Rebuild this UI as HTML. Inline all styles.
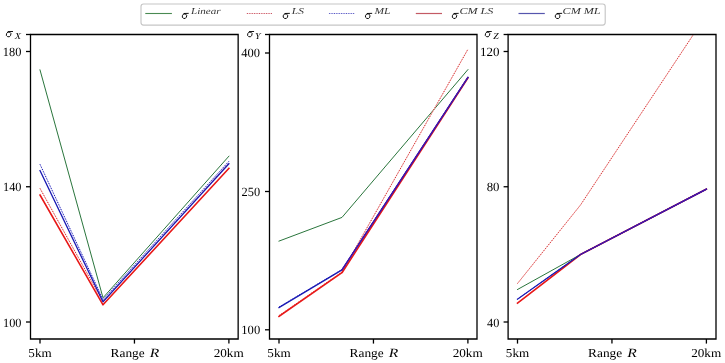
<!DOCTYPE html>
<html><head><meta charset="utf-8"><style>
html,body{margin:0;padding:0;background:#fff;width:725px;height:363px;overflow:hidden}
svg{display:block;will-change:transform}
text{font-family:"Liberation Serif",serif;text-rendering:geometricPrecision}
</style></head><body>
<svg width="725" height="363" viewBox="0 0 725 363">
<rect width="725" height="363" fill="#fff"/>
<defs>
<clipPath id="c0"><rect x="30.5" y="34.5" width="207.65" height="304.50"/></clipPath>
<clipPath id="c1"><rect x="269.5" y="34.5" width="207.50" height="304.50"/></clipPath>
<clipPath id="c2"><rect x="508.1" y="34.5" width="207.90" height="304.50"/></clipPath>
</defs>
<g clip-path="url(#c0)" fill="none" stroke-linejoin="round" stroke-linecap="butt">
<polyline points="40.00,69.90 103.00,297.80 228.90,156.20" stroke="#1f6e32" stroke-width="0.95" stroke-linecap="square"/>
<polyline points="40.00,188.40 103.00,302.00 228.90,163.20" stroke="#f8b8b8" stroke-width="0.8"/>
<polyline points="40.00,188.40 103.00,302.00 228.90,163.20" stroke="#d02828" stroke-width="1.0" stroke-dasharray="1.1 1.5"/>
<polyline points="40.00,164.30 103.00,299.60 228.90,161.30" stroke="#b8b8f8" stroke-width="0.8"/>
<polyline points="40.00,164.30 103.00,299.60 228.90,161.30" stroke="#1c1ca8" stroke-width="1.0" stroke-dasharray="1.1 1.5"/>
<polyline points="40.00,195.00 103.00,304.80 228.90,168.30" stroke="#e81818" stroke-width="1.6" stroke-linecap="square"/>
<polyline points="40.00,170.60 103.00,301.80 228.90,163.70" stroke="#1a1ab4" stroke-width="1.3" stroke-linecap="square"/>
</g>
<path d="M30.5,33.85V339.65M238.15,33.85V339.65M29.85,34.5H238.80M29.85,339.0H238.80" fill="none" stroke="#000" stroke-width="1.3"/>
<line x1="26.00" y1="51.5" x2="30.5" y2="51.5" stroke="#000" stroke-width="1.3"/>
<text transform="translate(2.83,56.00) scale(0.12409,0.12550)" font-size="100" fill="#000">180</text>
<line x1="26.00" y1="186.75" x2="30.5" y2="186.75" stroke="#000" stroke-width="1.3"/>
<text transform="translate(3.05,191.00) scale(0.12263,0.12550)" font-size="100" fill="#000">140</text>
<line x1="26.00" y1="322.0" x2="30.5" y2="322.0" stroke="#000" stroke-width="1.3"/>
<text transform="translate(3.05,327.00) scale(0.12263,0.12550)" font-size="100" fill="#000">100</text>
<line x1="26.00" y1="34.5" x2="30.5" y2="34.5" stroke="#000" stroke-width="1.3"/>
<line x1="40.00" y1="339.0" x2="40.00" y2="343.6" stroke="#000" stroke-width="1.3"/>
<line x1="134.45" y1="339.0" x2="134.45" y2="343.6" stroke="#000" stroke-width="1.3"/>
<line x1="228.90" y1="339.0" x2="228.90" y2="343.6" stroke="#000" stroke-width="1.3"/>
<text transform="translate(28.37,357.00) scale(0.13059,0.12128)" font-size="100" fill="#000">5km</text>
<text transform="translate(110.50,357.00) scale(0.13414,0.12241)" font-size="100" fill="#000">Range</text>
<text transform="translate(149.78,357.00) scale(0.15667,0.12748)" font-size="100" font-style="italic" fill="#000">R</text>
<text transform="translate(213.66,357.00) scale(0.13183,0.12128)" font-size="100" fill="#000">20km</text>
<g fill="none" stroke="#000"><ellipse cx="8.62" cy="34.42" rx="2.22" ry="2.46" transform="rotate(25 8.62 34.42)" stroke-width="0.85"/><path d="M8.13,31.60L12.58,31.48" stroke-width="0.94" stroke-linecap="round"/></g>
<text transform="translate(14.71,39.00) scale(0.10294,0.09313)" font-size="100" font-style="italic" fill="#000">X</text>
<g clip-path="url(#c1)" fill="none" stroke-linejoin="round" stroke-linecap="butt">
<polyline points="279.00,241.10 342.00,217.40 467.90,69.60" stroke="#1f6e32" stroke-width="0.95" stroke-linecap="square"/>
<polyline points="279.00,315.60 342.00,272.00 467.90,49.30" stroke="#f8b8b8" stroke-width="0.8"/>
<polyline points="279.00,315.60 342.00,272.00 467.90,49.30" stroke="#d02828" stroke-width="1.0" stroke-dasharray="1.1 1.5"/>
<polyline points="279.00,307.00 342.00,269.60 467.90,77.40" stroke="#b8b8f8" stroke-width="0.8"/>
<polyline points="279.00,307.00 342.00,269.60 467.90,77.40" stroke="#1c1ca8" stroke-width="1.0" stroke-dasharray="1.1 1.5"/>
<polyline points="279.00,316.40 342.00,272.70 467.90,77.90" stroke="#e81818" stroke-width="1.6" stroke-linecap="square"/>
<polyline points="279.00,307.50 342.00,269.90 467.90,77.40" stroke="#1a1ab4" stroke-width="1.3" stroke-linecap="square"/>
<line x1="342.00" y1="269.90" x2="467.90" y2="77.40" stroke="#4614a8" stroke-width="1.3" stroke-linecap="round"/>
</g>
<path d="M269.5,33.85V339.65M477.0,33.85V339.65M268.85,34.5H477.65M268.85,339.0H477.65" fill="none" stroke="#000" stroke-width="1.3"/>
<line x1="265.00" y1="53.0" x2="269.5" y2="53.0" stroke="#000" stroke-width="1.3"/>
<text transform="translate(241.30,57.00) scale(0.12500,0.12550)" font-size="100" fill="#000">400</text>
<line x1="265.00" y1="191.5" x2="269.5" y2="191.5" stroke="#000" stroke-width="1.3"/>
<text transform="translate(241.59,196.00) scale(0.12438,0.12550)" font-size="100" fill="#000">250</text>
<line x1="265.00" y1="329.8" x2="269.5" y2="329.8" stroke="#000" stroke-width="1.3"/>
<text transform="translate(241.31,334.00) scale(0.12628,0.12550)" font-size="100" fill="#000">100</text>
<line x1="265.00" y1="34.5" x2="269.5" y2="34.5" stroke="#000" stroke-width="1.3"/>
<line x1="279.00" y1="339.0" x2="279.00" y2="343.6" stroke="#000" stroke-width="1.3"/>
<line x1="373.45" y1="339.0" x2="373.45" y2="343.6" stroke="#000" stroke-width="1.3"/>
<line x1="467.90" y1="339.0" x2="467.90" y2="343.6" stroke="#000" stroke-width="1.3"/>
<text transform="translate(267.37,357.00) scale(0.13059,0.12128)" font-size="100" fill="#000">5km</text>
<text transform="translate(349.50,357.00) scale(0.13414,0.12241)" font-size="100" fill="#000">Range</text>
<text transform="translate(388.78,357.00) scale(0.15667,0.12748)" font-size="100" font-style="italic" fill="#000">R</text>
<text transform="translate(452.66,357.00) scale(0.13183,0.12128)" font-size="100" fill="#000">20km</text>
<g fill="none" stroke="#000"><ellipse cx="249.82" cy="34.42" rx="2.18" ry="2.46" transform="rotate(25 249.82 34.42)" stroke-width="0.85"/><path d="M249.34,31.60L253.69,31.48" stroke-width="0.94" stroke-linecap="round"/></g>
<text transform="translate(255.04,39.00) scale(0.10085,0.09313)" font-size="100" font-style="italic" fill="#000">Y</text>
<g clip-path="url(#c2)" fill="none" stroke-linejoin="round" stroke-linecap="butt">
<polyline points="517.50,289.50 580.50,254.50 706.40,189.10" stroke="#1f6e32" stroke-width="0.95" stroke-linecap="square"/>
<polyline points="517.50,283.50 580.50,205.00 706.40,14.90" stroke="#f8b8b8" stroke-width="0.8"/>
<polyline points="517.50,283.50 580.50,205.00 706.40,14.90" stroke="#d02828" stroke-width="1.0" stroke-dasharray="1.1 1.5"/>
<polyline points="517.50,299.20 580.50,254.50 706.40,189.10" stroke="#b8b8f8" stroke-width="0.8"/>
<polyline points="517.50,299.20 580.50,254.50 706.40,189.10" stroke="#1c1ca8" stroke-width="1.0" stroke-dasharray="1.1 1.5"/>
<polyline points="517.50,303.20 580.50,254.50 706.40,189.10" stroke="#e81818" stroke-width="1.6" stroke-linecap="square"/>
<polyline points="517.50,299.20 580.50,254.50 706.40,189.10" stroke="#1a1ab4" stroke-width="1.3" stroke-linecap="square"/>
<line x1="580.50" y1="254.50" x2="706.40" y2="189.10" stroke="#4614a8" stroke-width="1.3" stroke-linecap="round"/>
</g>
<path d="M508.1,33.85V339.65M716.0,33.85V339.65M507.45,34.5H716.65M507.45,339.0H716.65" fill="none" stroke="#000" stroke-width="1.3"/>
<line x1="503.60" y1="51.5" x2="508.1" y2="51.5" stroke="#000" stroke-width="1.3"/>
<text transform="translate(479.98,56.00) scale(0.12993,0.12550)" font-size="100" fill="#000">120</text>
<line x1="503.60" y1="186.75" x2="508.1" y2="186.75" stroke="#000" stroke-width="1.3"/>
<text transform="translate(486.64,191.00) scale(0.12826,0.12550)" font-size="100" fill="#000">80</text>
<line x1="503.60" y1="322.0" x2="508.1" y2="322.0" stroke="#000" stroke-width="1.3"/>
<text transform="translate(487.10,327.00) scale(0.12340,0.12550)" font-size="100" fill="#000">40</text>
<line x1="503.60" y1="34.5" x2="508.1" y2="34.5" stroke="#000" stroke-width="1.3"/>
<line x1="517.50" y1="339.0" x2="517.50" y2="343.6" stroke="#000" stroke-width="1.3"/>
<line x1="611.95" y1="339.0" x2="611.95" y2="343.6" stroke="#000" stroke-width="1.3"/>
<line x1="706.40" y1="339.0" x2="706.40" y2="343.6" stroke="#000" stroke-width="1.3"/>
<text transform="translate(505.87,357.00) scale(0.13059,0.12128)" font-size="100" fill="#000">5km</text>
<text transform="translate(588.00,357.00) scale(0.13414,0.12241)" font-size="100" fill="#000">Range</text>
<text transform="translate(627.28,357.00) scale(0.15667,0.12748)" font-size="100" font-style="italic" fill="#000">R</text>
<text transform="translate(691.16,357.00) scale(0.13183,0.12128)" font-size="100" fill="#000">20km</text>
<g fill="none" stroke="#000"><ellipse cx="487.52" cy="34.42" rx="2.18" ry="2.46" transform="rotate(25 487.52 34.42)" stroke-width="0.85"/><path d="M487.04,31.60L491.39,31.48" stroke-width="0.94" stroke-linecap="round"/></g>
<text transform="translate(493.20,39.00) scale(0.09818,0.09313)" font-size="100" font-style="italic" fill="#000">Z</text>
<rect x="141" y="4.0" width="464.2" height="21.1" rx="2.5" ry="2.5" fill="#fff" stroke="#c6c6c6" stroke-width="1.15"/>
<line x1="145.3" y1="13.5" x2="171.9" y2="13.5" stroke="#4a8a52" stroke-width="1.1"/>
<g fill="none" stroke="#000"><ellipse cx="184.48" cy="16.21" rx="2.14" ry="2.38" transform="rotate(25 184.48 16.21)" stroke-width="0.85"/><path d="M184.01,13.48L188.30,13.36" stroke-width="0.94" stroke-linecap="round"/></g>
<text transform="translate(191.06,14.00) scale(0.11082,0.08955)" font-size="100" font-style="italic" fill="#333">Linear</text>
<line x1="246.6" y1="13.5" x2="272.0" y2="13.5" stroke="#f8d0d0" stroke-width="0.8"/>
<line x1="246.9" y1="13.5" x2="272.0" y2="13.5" stroke="#c85868" stroke-width="1.0" stroke-dasharray="1.1 1.3"/>
<g fill="none" stroke="#000"><ellipse cx="285.46" cy="16.21" rx="2.26" ry="2.38" transform="rotate(25 285.46 16.21)" stroke-width="0.85"/><path d="M284.97,13.48L289.48,13.36" stroke-width="0.94" stroke-linecap="round"/></g>
<text transform="translate(291.86,14.00) scale(0.11333,0.08955)" font-size="100" font-style="italic" fill="#333">LS</text>
<line x1="328.8" y1="13.5" x2="354.2" y2="13.5" stroke="#d0d0f8" stroke-width="0.8"/>
<line x1="329.1" y1="13.5" x2="354.2" y2="13.5" stroke="#5c5cc0" stroke-width="1.0" stroke-dasharray="1.1 1.3"/>
<g fill="none" stroke="#000"><ellipse cx="367.71" cy="16.21" rx="2.28" ry="2.38" transform="rotate(25 367.71 16.21)" stroke-width="0.85"/><path d="M367.21,13.48L371.77,13.36" stroke-width="0.94" stroke-linecap="round"/></g>
<text transform="translate(374.43,14.00) scale(0.11542,0.09160)" font-size="100" font-style="italic" fill="#333">ML</text>
<line x1="415.8" y1="13.5" x2="442.0" y2="13.5" stroke="#c45a64" stroke-width="1.2"/>
<g fill="none" stroke="#000"><ellipse cx="454.48" cy="16.21" rx="2.14" ry="2.38" transform="rotate(25 454.48 16.21)" stroke-width="0.85"/><path d="M454.01,13.48L458.30,13.36" stroke-width="0.94" stroke-linecap="round"/></g>
<text transform="translate(459.49,14.00) scale(0.12066,0.08955)" font-size="100" font-style="italic" fill="#333">CM LS</text>
<line x1="518.5" y1="13.5" x2="544.8" y2="13.5" stroke="#5656ae" stroke-width="1.2"/>
<g fill="none" stroke="#000"><ellipse cx="557.60" cy="16.21" rx="2.34" ry="2.38" transform="rotate(25 557.60 16.21)" stroke-width="0.85"/><path d="M557.09,13.48L561.76,13.36" stroke-width="0.94" stroke-linecap="round"/></g>
<text transform="translate(562.59,14.00) scale(0.12072,0.08955)" font-size="100" font-style="italic" fill="#333">CM ML</text>
</svg></body></html>
